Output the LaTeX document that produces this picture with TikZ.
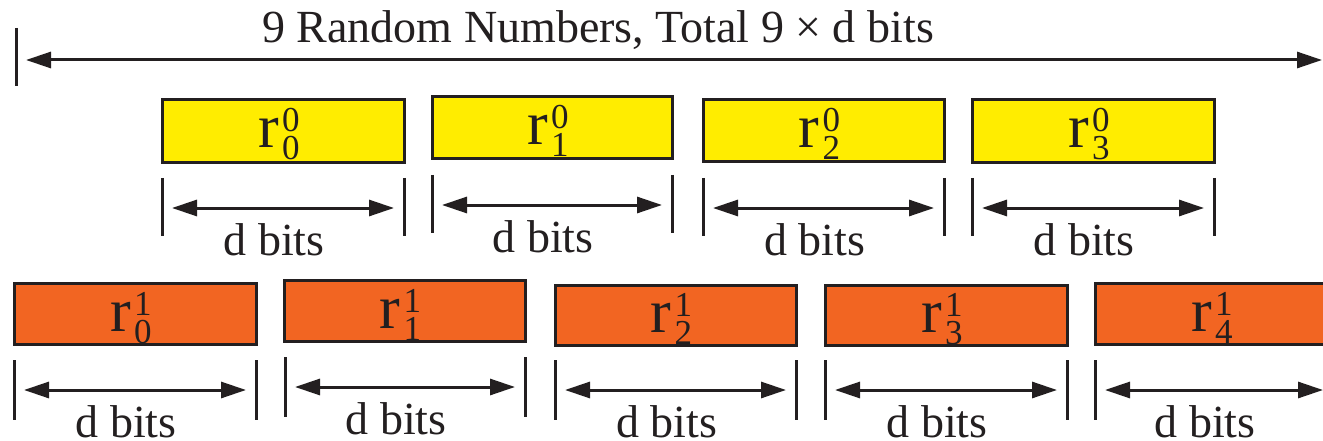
\documentclass[tikz,border=0pt]{standalone}
\usepackage{fontspec}
\setmainfont{Liberation Serif}
\usetikzlibrary{arrows.meta}
\definecolor{ink}{RGB}{35,31,32}
\definecolor{ylw}{RGB}{255,237,0}
\definecolor{org}{RGB}{242,101,34}
\newcommand\rlabel[2]{\fontsize{62}{62}\selectfont r\hspace{3pt}\fontsize{35}{35}\selectfont\rlap{\raisebox{16pt}{#1}}\raisebox{-12pt}{#2}}
\newcommand\dimset[7]{% name, x1, x2, ytop, ybot, yarrow, ybase
  \coordinate (#1l1) at (#2,#4); \coordinate (#1l2) at (#2,#5);
  \coordinate (#1r1) at (#3,#4); \coordinate (#1r2) at (#3,#5);
  \coordinate (#1a) at (#2+10,#6); \coordinate (#1b) at (#3-10,#6);
  \draw[tickline] (#1l1) -- (#1l2);
  \draw[tickline] (#1r1) -- (#1r2);
  \draw[dimarrow] (#1a) -- (#1b);
  \node[txt, anchor=base] (#1t) at ({(#2+#3)/2-9},#7) {d bits};
}
\tikzset{
  blk/.style={draw=ink, line width=3pt, inner sep=0pt, minimum height=62pt},
  ybox/.style={blk, fill=ylw},
  obox/.style={blk, fill=org},
  tickline/.style={draw=ink, line width=3pt},
  dimarrow/.style={draw=ink, line width=3pt, {Triangle[length=25pt,width=16pt]}-{Triangle[length=25pt,width=16pt]}},
  txt/.style={inner sep=0pt, text=ink, font=\fontsize{46}{46}\selectfont},
  rl/.style={inner sep=0pt, text=ink, anchor=base},
}
\begin{document}
\begin{tikzpicture}[x=1pt,y=-1pt]
\clip (0,0) rectangle (1323,441);
\fill[white] (0,0) rectangle (1323,441);
% title
\coordinate (tt1) at (16,28); \coordinate (tt2) at (16,86);
\coordinate (ta) at (26,60); \coordinate (tb) at (1322,60);
\draw[tickline] (tt1) -- (tt2);
\draw[dimarrow] (ta) -- (tb);
\node[txt, anchor=base] (title) at (598,43) {9 Random Numbers, Total 9 × d bits};
% yellow row
\node[ybox, minimum width=242pt, minimum height=63pt] (y0) at (283,131.5) {};
\node[ybox, minimum width=240pt] (y1) at (552,128) {};
\node[ybox, minimum width=241pt] (y2) at (823.5,131) {};
\node[ybox, minimum width=242pt, minimum height=63pt] (y3) at (1093,131.5) {};
\node[rl] (ly0) at (279,148) {\rlabel{0}{0}};
\node[rl] (ly1) at (548,145) {\rlabel{0}{1}};
\node[rl] (ly2) at (819.5,148) {\rlabel{0}{2}};
\node[rl] (ly3) at (1089,148) {\rlabel{0}{3}};
\dimset{dy0}{162}{404}{178}{236}{208}{255}
\dimset{dy1}{432}{672}{175}{233}{205}{252}
\dimset{dy2}{703}{944}{178}{236}{208}{255}
\dimset{dy3}{972}{1214}{178}{236}{208}{255}
% orange row
\node[obox, minimum width=242pt, minimum height=61pt] (o0) at (135,313.5) {};
\node[obox, minimum width=241pt, minimum height=61pt] (o1) at (404.5,310.5) {};
\node[obox, minimum width=241pt, minimum height=60pt] (o2) at (675.5,315) {};
\node[obox, minimum width=242pt, minimum height=60pt] (o3) at (946,315) {};
\node[obox, minimum width=242pt, minimum height=61pt] (o4) at (1216,313.5) {};
\node[rl] (lo0) at (131,331) {\rlabel{1}{0}};
\node[rl] (lo1) at (400.5,328) {\rlabel{1}{1}};
\node[rl] (lo2) at (671.5,332) {\rlabel{1}{2}};
\node[rl] (lo3) at (942,332) {\rlabel{1}{3}};
\node[rl] (lo4) at (1212,331) {\rlabel{1}{4}};
\dimset{do0}{14}{256}{360}{420}{390}{437}
\dimset{do1}{285}{525}{357}{417}{387}{434}
\dimset{do2}{555}{796}{360}{420}{390}{437}
\dimset{do3}{825}{1067}{360}{420}{390}{437}
\dimset{do4}{1095}{1333}{360}{420}{390}{437}
\end{tikzpicture}
\end{document}
